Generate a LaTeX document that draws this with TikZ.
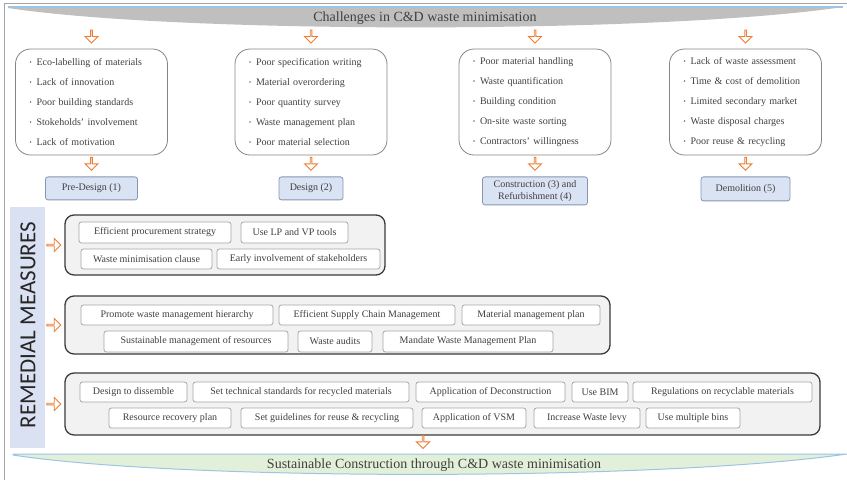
\documentclass[tikz,border=0pt]{standalone}
\usepackage{fontspec}
\setmainfont{Liberation Serif}
\newfontfamily\calibrifont{Carlito}
\usetikzlibrary{positioning}
\usetikzlibrary{shapes.arrows}

\definecolor{txtgray}{HTML}{404040}
\definecolor{arrorange}{HTML}{ED7D31}
\definecolor{stageblue}{HTML}{DAE3F3}
\definecolor{stageedge}{HTML}{8497B0}
\definecolor{bannergray}{HTML}{BFBFBF}
\definecolor{bannergreen}{HTML}{E2F0D9}
\definecolor{bannerline}{HTML}{9DC3E6}
\definecolor{remedyblue}{HTML}{D9E1F2}
\definecolor{groupfill}{HTML}{F2F2F2}
\definecolor{groupedge}{HTML}{3A3A3A}
\definecolor{boxedge}{HTML}{A6A6A6}

\newcommand\bitem{\makebox[7pt][l]{\raisebox{0.8pt}{\scalebox{0.6}{\textbullet}}}}

\tikzset{challbox/.style={draw=boxedge!80!black,line width=0.8pt,fill=white,rounded corners=15pt,minimum width=152pt,minimum height=106pt,inner sep=0pt,text width=124pt,align=left,font=\fontsize{10}{20}\selectfont,text=txtgray}}
\tikzset{stagebox/.style={draw=stageedge,line width=0.8pt,fill=stageblue,rounded corners=2.5pt,inner sep=0pt,minimum height=23pt,align=center,font=\fontsize{10}{12}\selectfont,text=txtgray}}
\tikzset{grpbox/.style={draw=groupedge,line width=1.3pt,fill=groupfill,rounded corners=9pt,inner sep=0pt}}
\tikzset{mbox/.style={draw=boxedge,line width=0.8pt,fill=white,rounded corners=2.5pt,inner sep=0pt,minimum height=20pt,font=\fontsize{10}{12}\selectfont,text=txtgray}}
\tikzset{darr/.style={single arrow,shape border rotate=270,draw=arrorange,line width=0.9pt,fill=white,inner sep=0pt,minimum height=13pt,minimum width=13pt,single arrow head extend=3.2pt}}
\tikzset{rarr/.style={darr,shape border rotate=0,minimum height=14pt}}

\begin{document}
\begin{tikzpicture}[x=1pt,y=-1pt]
      \useasboundingbox (0,0) rectangle (847,480);
      \draw[boxedge,line width=0.8pt] (4,480) -- (4,3) -- (847,3);

      % banners
      \fill[bannergray] (8,7) -- (843,7) .. controls (660,34) and (180,34) .. (8,8) -- cycle;
      \draw[bannerline,line width=1.5pt] (8,7) -- (843,7);
      \node[font=\fontsize{14}{16}\selectfont,text=txtgray] (top) at (425,18) {Challenges in C\&D waste minimisation};

      \filldraw[draw=bannerline,fill=bannergreen,line width=1pt] (13,454) -- (847,454) .. controls (660,481) and (180,481) .. (13,455) -- cycle;
      \node[font=\fontsize{14}{16}\selectfont,text=txtgray] (bottom) at (434,465) {Sustainable Construction through C\&D waste minimisation};

      \fill[remedyblue] (10,207) rectangle (45,448);
      \node[rotate=90,font=\calibrifont\fontsize{23}{23}\selectfont,text=black!85] (rem) at (28,325) {REMEDIAL MEASURES};

      % challenges
      \node[challbox] (c1) at (91.5,102) {\bitem Eco-labelling of materials\\\bitem Lack of innovation\\\bitem Poor building standards\\\bitem Stokeholds' involvement\\\bitem Lack of motivation};
      \node[challbox] (c2) at (311,102) {\bitem Poor specification writing\\\bitem Material overordering\\\bitem Poor quantity survey\\\bitem Waste management plan\\\bitem Poor material selection};
      \node[challbox] (c3) at (535,102) {\bitem Poor material handling\\\bitem Waste quantification\\\bitem Building condition\\\bitem On-site waste sorting\\\bitem Contractors' willingness};
      \node[challbox] (c4) at (745.5,102) {\bitem Lack of waste assessment\\\bitem Time \& cost of demolition\\\bitem Limited secondary market\\\bitem Waste disposal charges\\\bitem Poor reuse \& recycling};

      \node[darr,above=5pt of c1] (t1) {};
      \node[darr,above=5pt of c2] (t2) {};
      \node[darr,above=5pt of c3] (t3) {};
      \node[darr,above=5pt of c4] (t4) {};
      \node[darr,below=1.5pt of c1] (d1) {};
      \node[darr,below=1.5pt of c2] (d2) {};
      \node[darr,below=1.5pt of c3] (d3) {};
      \node[darr,below=1.5pt of c4] (d4) {};

      \node[stagebox,minimum width=92pt,below=5.5pt of d1] (s1) {Pre-Design (1)};
      \node[stagebox,minimum width=64pt,below=5.5pt of d2] (s2) {Design (2)};
      \node[stagebox,minimum width=105pt,minimum height=28pt,below=5.5pt of d3] (s3) {Construction (3) and\\Refurbishment (4)};
      \node[stagebox,minimum width=89pt,minimum height=24pt,below=5.5pt of d4] (s4) {Demolition (5)};

      % remedial measures
      \node[grpbox,minimum width=320pt,minimum height=60pt] (g1) at (225,245) {};
      \node[grpbox,minimum width=545pt,minimum height=58pt] (g2) at (337.5,325) {};
      \node[grpbox,minimum width=755pt,minimum height=62pt] (g3) at (442.5,404) {};
      \node[rarr,left=3pt of g1] (r1) {};
      \node[rarr,left=3pt of g2] (r2) {};
      \node[rarr,left=3pt of g3] (r3) {};

      \node[mbox,minimum width=152pt,minimum height=21pt] (m11) at (155,232.5) {Efficient procurement strategy};
      \node[mbox,minimum width=107pt,minimum height=21pt] (m12) at (294.5,232.5) {Use LP and VP tools};
      \node[mbox,minimum width=131pt] (m13) at (146.5,259) {Waste minimisation clause};
      \node[mbox,minimum width=163pt] (m14) at (298.5,259) {Early involvement of stakeholders};

      \node[mbox,minimum width=192pt] (m21) at (177,315) {Promote waste management hierarchy};
      \node[mbox,minimum width=176pt] (m22) at (367,315) {Efficient Supply Chain Management};
      \node[mbox,minimum width=138pt] (m23) at (531,315) {Material management plan};
      \node[mbox,minimum width=184pt,minimum height=21pt] (m24) at (196,341.5) {Sustainable management of resources};
      \node[mbox,minimum width=74pt,minimum height=21pt] (m25) at (335,341.5) {Waste audits};
      \node[mbox,minimum width=170pt,minimum height=21pt] (m26) at (468,341.5) {Mandate Waste Management Plan};

      \node[mbox,minimum width=107pt] (m31) at (133.5,392) {Design to dissemble};
      \node[mbox,minimum width=216pt] (m32) at (301,392) {Set technical standards for recycled materials};
      \node[mbox,minimum width=149pt] (m33) at (490.5,392) {Application of Deconstruction};
      \node[mbox,minimum width=56pt] (m34) at (600,392) {Use BIM};
      \node[mbox,minimum width=179pt] (m35) at (722.5,392) {Regulations on recyclable materials};
      \node[mbox,minimum width=122pt] (m36) at (170,418) {Resource recovery plan};
      \node[mbox,minimum width=172pt] (m37) at (327,418) {Set guidelines for reuse \& recycling};
      \node[mbox,minimum width=104pt] (m38) at (474,418) {Application of VSM};
      \node[mbox,minimum width=106pt] (m39) at (587,418) {Increase Waste levy};
      \node[mbox,minimum width=94pt] (m310) at (693,418) {Use multiple bins};

      \node[darr] (e1) at (423,441.5) {};
\end{tikzpicture}
\end{document}
